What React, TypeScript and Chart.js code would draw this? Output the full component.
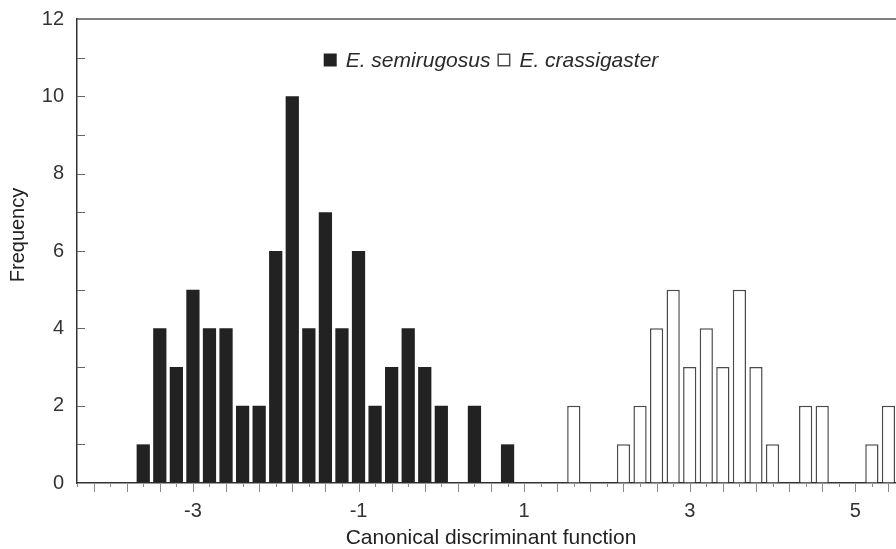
import React, { useEffect, useRef } from "react";
import { Chart, registerables } from "chart.js";

Chart.register(...registerables);

// ---- data ----
const semiBins = [-3.6, -3.4, -3.2, -3.0, -2.8, -2.6, -2.4, -2.2, -2.0, -1.8, -1.6, -1.4, -1.2, -1.0, -0.8, -0.6, -0.4, -0.2, 0.0, 0.4, 0.8];
const semiCounts = [1, 4, 3, 5, 4, 4, 2, 2, 6, 10, 4, 7, 4, 6, 2, 3, 4, 3, 2, 2, 1];
const crassBins = [1.6, 2.2, 2.4, 2.6, 2.8, 3.0, 3.2, 3.4, 3.6, 3.8, 4.0, 4.4, 4.6, 5.2, 5.4];
const crassCounts = [2, 1, 2, 4, 5, 3, 4, 3, 5, 3, 1, 2, 2, 1, 2];
const seriesNames = ["E. semirugosus", "E. crassigaster"];
const xRange = [-4.4, 5.6];
const xLabelValues = [-3, -1, 1, 3, 5];
const yRange = [0, 12];
const xTitle = "Canonical discriminant function";
const yTitle = "Frequency";

const FONT = "'Liberation Sans', Arial, Helvetica, sans-serif";

const decorPlugin = {
  id: "decor",
  afterDraw(chart: any) {
    const { ctx, chartArea: a, scales } = chart;
    const x = scales.x;
    const y = scales.y;
    ctx.save();
    // top / right frame
    ctx.strokeStyle = "#555";
    ctx.lineWidth = 1.5;
    ctx.beginPath();
    ctx.moveTo(a.left, a.top);
    ctx.lineTo(a.right, a.top);
    ctx.lineTo(a.right, a.bottom);
    ctx.stroke();
    // x tick marks (outward, alternating length)
    ctx.strokeStyle = "#8a8a8a";
    ctx.lineWidth = 1;
    ctx.beginPath();
    x.ticks.forEach((t: any) => {
      const px = Math.round(x.getPixelForValue(t.value)) + 0.5;
      const k = Math.round(t.value * 10);
      const long = (((k + 2) % 4) + 4) % 4 === 0;
      ctx.moveTo(px, a.bottom + 1);
      ctx.lineTo(px, a.bottom + (long ? 9 : 4));
    });
    ctx.stroke();
    // y tick marks (inward)
    ctx.strokeStyle = "#666";
    ctx.beginPath();
    y.ticks.forEach((t: any) => {
      if (t.value <= yRange[0] || t.value >= yRange[1]) return;
      const py = Math.round(y.getPixelForValue(t.value)) + 0.5;
      ctx.moveTo(a.left, py);
      ctx.lineTo(a.left + 8, py);
    });
    ctx.stroke();
    // y axis title
    ctx.save();
    ctx.translate(18, (a.top + a.bottom) / 2 - 16);
    ctx.rotate(-Math.PI / 2);
    ctx.font = `20px ${FONT}`;
    ctx.fillStyle = "#222";
    ctx.textAlign = "center";
    ctx.textBaseline = "middle";
    ctx.fillText(yTitle, 0, 0);
    ctx.restore();
    // legend
    const ds = chart.data.datasets;
    ctx.font = `italic 21px ${FONT}`;
    ctx.textBaseline = "middle";
    ctx.textAlign = "left";
    const box = 13;
    const gapBT = 9;
    const gapItems = 7;
    const widths = ds.map((d: any) => ctx.measureText(d.label).width);
    let total = 0;
    widths.forEach((w: number, i: number) => {
      total += box + gapBT + w + (i < widths.length - 1 ? gapItems : 0);
    });
    let cx = (a.left + a.right) / 2 - total / 2;
    const cy = a.top + 41;
    ds.forEach((d: any, i: number) => {
      ctx.fillStyle = d.backgroundColor;
      ctx.fillRect(cx, cy - box / 2, box, box);
      if (d.borderWidth) {
        ctx.strokeStyle = d.borderColor;
        ctx.lineWidth = 1.5;
        ctx.strokeRect(cx + 0.75, cy - box / 2 + 0.75, box - 1.5, box - 1.5);
      }
      cx += box + gapBT;
      ctx.fillStyle = "#2a2a2a";
      ctx.fillText(d.label, cx, cy + 1);
      cx += widths[i] + gapItems;
    });
    ctx.restore();
  },
};

export default function App() {
  const ref = useRef<HTMLCanvasElement | null>(null);

  useEffect(() => {
    if (!ref.current) return;
    const chart = new Chart(ref.current, {
      type: "bar",
      data: {
        datasets: [
          {
            label: seriesNames[0],
            data: semiBins.map((b, i) => ({ x: b, y: semiCounts[i] })),
            backgroundColor: "#222222",
            borderColor: "#222222",
            borderWidth: 0,
            grouped: false,
            barPercentage: 0.8,
            categoryPercentage: 1,
          } as any,
          {
            label: seriesNames[1],
            data: crassBins.map((b, i) => ({ x: b, y: crassCounts[i] })),
            backgroundColor: "#ffffff",
            borderColor: "#4a4a4a",
            borderWidth: 1.5,
            grouped: false,
            barPercentage: 0.8,
            categoryPercentage: 1,
          } as any,
        ],
      },
      options: {
        animation: false,
        responsive: false,
        layout: { padding: { left: 0, top: 19, right: 1, bottom: 0 } },
        plugins: {
          legend: { display: false },
          tooltip: { enabled: false },
        },
        scales: {
          x: {
            type: "linear",
            min: xRange[0],
            max: xRange[1],
            offset: false,
            grid: { display: true, drawOnChartArea: false, drawTicks: false, offset: false },
            border: { display: true, color: "#333", width: 1.5 },
            ticks: {
              stepSize: 0.2,
              autoSkip: false,
              maxRotation: 0,
              padding: 16,
              color: "#333",
              font: { family: FONT, size: 20 },
              callback: (v: any) => {
                const n = Number(v);
                const hit = xLabelValues.find((l) => Math.abs(l - n) < 1e-6);
                return hit === undefined ? "" : String(hit);
              },
            },
            title: {
              display: true,
              text: xTitle,
              color: "#222",
              font: { family: FONT, size: 21, lineHeight: 1 },
              padding: { top: 0, bottom: 0 },
            },
            afterFit: (s: any) => {
              s.height = 66;
              s.paddingLeft = 0;
              s.paddingRight = 0;
            },
          },
          y: {
            type: "linear",
            min: yRange[0],
            max: yRange[1],
            grid: { display: true, drawOnChartArea: false, drawTicks: false },
            border: { display: true, color: "#333", width: 1.5 },
            ticks: {
              stepSize: 1,
              autoSkip: false,
              padding: 13,
              color: "#333",
              font: { family: FONT, size: 20 },
              callback: (v: any) => (Number(v) % 2 === 0 ? String(v) : ""),
            },
            title: { display: false },
            afterFit: (s: any) => {
              s.width = 77;
              s.paddingTop = 0;
              s.paddingBottom = 0;
            },
          },
        },
      } as any,
      plugins: [decorPlugin],
    });
    return () => chart.destroy();
  }, []);

  return (
    <div
      style={{
        position: "fixed",
        left: 0,
        top: 0,
        width: 896,
        height: 549,
        overflow: "hidden",
        background: "#fff",
      }}
    >
      <canvas ref={ref} width={906} height={549} style={{ display: "block" }} />
    </div>
  );
}
